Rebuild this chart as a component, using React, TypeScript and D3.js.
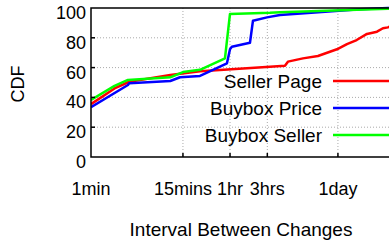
import React from "react";
import * as d3 from "d3";

// x values in seconds, y values CDF (%)
const sellerPageX = [60, 120, 185, 620, 1486, 3000, 11670, 18150, 19820, 30830, 47960, 83950, 112700, 150000, 203200, 272900, 325400, 376700, 420000];
const sellerPageY = [35.5, 46, 50.5, 55, 57.5, 58.5, 60.6, 61.3, 64, 66.2, 67.8, 72.3, 75.8, 78.5, 82.6, 84.1, 86.4, 87, 88];

const buyboxPriceX = [60, 178, 185, 620, 825, 1486, 2178, 3289, 3597, 3800, 6477, 7079, 10690, 15670, 165200, 376700, 420000];
const buyboxPriceY = [33.5, 48.3, 49.5, 51, 53.5, 54.4, 58.4, 62.9, 72.3, 74, 76.7, 91.5, 93.7, 95.3, 99.1, 100, 100];

const buyboxSellerX = [60, 120, 178, 620, 900, 1486, 3102, 3597, 11670, 15670, 376700, 420000];
const buyboxSellerY = [38.3, 47.7, 51.7, 53.5, 57, 58.5, 66.2, 96, 96.8, 97.2, 99.5, 99.6];

const seriesNames = ["Seller Page", "Buybox Price", "Buybox Seller"];
const seriesColors = ["#ff0000", "#0000ff", "#00ff00"];

const xTickValues = [60, 900, 3600, 10800, 86400];
const xTickLabels = ["1min", "15mins", "1hr", "3hrs", "1day"];
const yTickValues = [0, 20, 40, 60, 80, 100];

export default function App() {
  const W = 389, H = 245;
  const left = 91, top = 8, bottom = 157;
  const x = d3.scaleLog().domain([60, 604800]).range([left, 404]);
  const y = d3.scaleLinear().domain([0, 100]).range([bottom, top]);
  const line = d3.line<[number, number]>().x(d => x(d[0])).y(d => y(d[1]));
  const series = [
    d3.zip(sellerPageX, sellerPageY) as [number, number][],
    d3.zip(buyboxPriceX, buyboxPriceY) as [number, number][],
    d3.zip(buyboxSellerX, buyboxSellerY) as [number, number][],
  ];
  const font = "'Liberation Sans', Arial, Helvetica, sans-serif";
  const fs = 18;
  return (
    <svg width={W} height={H} style={{ position: "fixed", left: 0, top: 0, background: "#fff" }} fontFamily={font}>
      <defs>
        <clipPath id="plot">
          <rect x={left} y={top - 3} width={W - left} height={bottom - top + 3} />
        </clipPath>
      </defs>
      {/* grid */}
      {yTickValues.slice(1, -1).map(v => (
        <line key={"gy" + v} x1={left} x2={W} y1={y(v)} y2={y(v)} stroke="#aaa" strokeWidth={1} strokeDasharray="1,2" />
      ))}
      {xTickValues.slice(1).map(v => (
        <line key={"gx" + v} x1={x(v)} x2={x(v)} y1={top} y2={bottom} stroke="#aaa" strokeWidth={1} strokeDasharray="1,2" />
      ))}
      {/* legend */}
      {seriesNames.map((n, i) => (
        <g key={n}>
          <text x={322} y={81 + i * 27 + 6.5} textAnchor="end" fontSize={fs + 1} fill="#000">{n}</text>
          <line x1={333} x2={W} y1={81 + i * 27} y2={81 + i * 27} stroke={seriesColors[i]} strokeWidth={2.5} />
        </g>
      ))}
      {/* data */}
      <g clipPath="url(#plot)">
        {series.map((s, i) => (
          <path key={i} d={line(s) || ""} fill="none" stroke={seriesColors[i]} strokeWidth={2.5} strokeLinejoin="round" />
        ))}
      </g>
      {/* axes */}
      <path d={`M${W},${top}H${left}V${bottom}H${W}`} fill="none" stroke="#000" strokeWidth={1.5} />
      {yTickValues.slice(1, -1).map(v => (
        <line key={"ty" + v} x1={left} x2={left + 4} y1={y(v)} y2={y(v)} stroke="#000" strokeWidth={1.5} />
      ))}
      {xTickValues.slice(1).map(v => (
        <line key={"tx" + v} x1={x(v)} x2={x(v)} y1={bottom} y2={bottom - 4} stroke="#000" strokeWidth={1.5} />
      ))}
      {yTickValues.map(v => (
        <text key={"ly" + v} x={86} y={y(v) + 11} textAnchor="end" fontSize={fs} fill="#000">{v}</text>
      ))}
      {xTickValues.map((v, i) => (
        <text key={"lx" + v} x={x(v)} y={195} textAnchor="middle" fontSize={fs} fill="#000">{xTickLabels[i]}</text>
      ))}
      <text x={241} y={236} textAnchor="middle" fontSize={fs + 1} fill="#000">Interval Between Changes</text>
      <text transform="translate(24,84) rotate(-90)" textAnchor="middle" fontSize={fs} fill="#000">CDF</text>
    </svg>
  );
}
